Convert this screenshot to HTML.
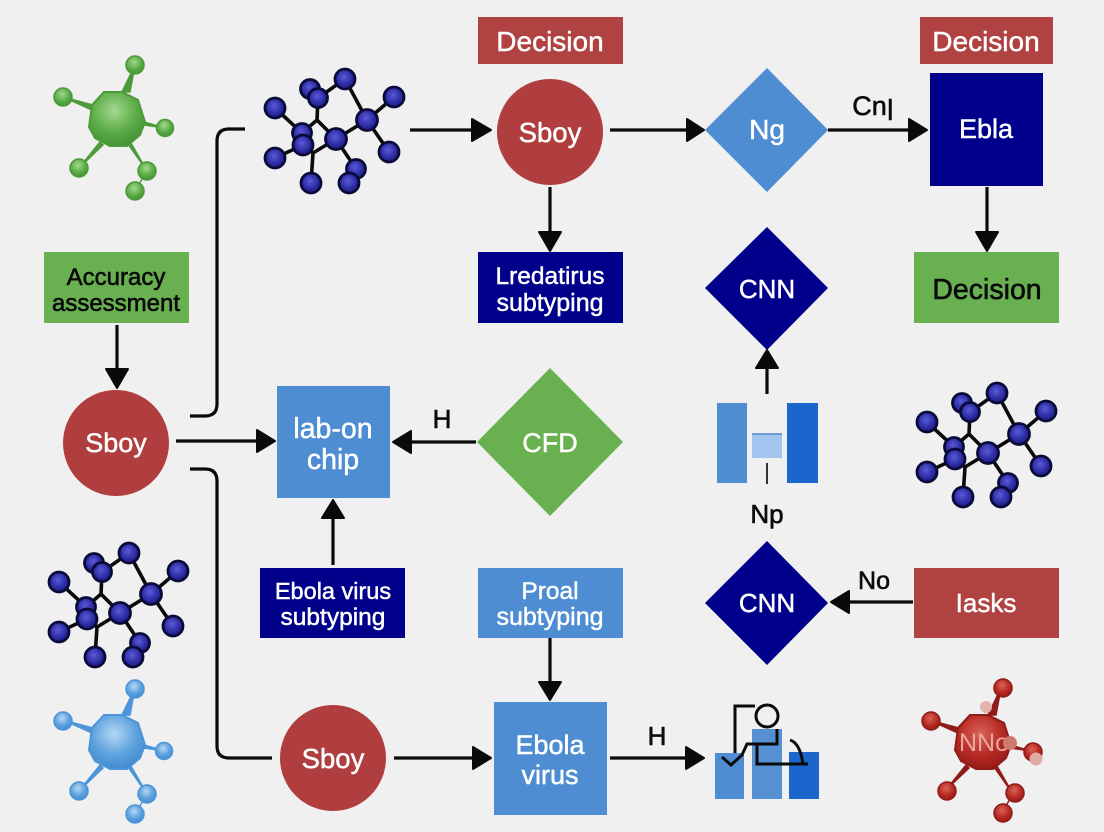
<!DOCTYPE html>
<html><head><meta charset="utf-8"><style>
html,body{margin:0;padding:0;background:#f0f0f0;width:1104px;height:832px;overflow:hidden}
svg{display:block}
text{font-family:"Liberation Sans",sans-serif;text-anchor:middle}
.w{fill:#fff;stroke:#fff;stroke-width:.45}
.k{fill:#0a0a0a;stroke:#0a0a0a;stroke-width:.6}
.c{fill:none;stroke:#0a0a0a;stroke-width:3.2}
.h{fill:#0a0a0a;stroke:#0a0a0a;stroke-width:2;stroke-linejoin:round}
</style></head><body>
<svg width="1104" height="832" viewBox="0 0 1104 832" xmlns="http://www.w3.org/2000/svg">
<defs>
<radialGradient id="bb" cx=".45" cy=".4" r=".6"><stop offset="0" stop-color="#5a5ad8"/><stop offset=".6" stop-color="#2f2fa8"/><stop offset="1" stop-color="#1c1c80"/></radialGradient>
<radialGradient id="gb" cx=".45" cy=".35" r=".65"><stop offset="0" stop-color="#a5d890"/><stop offset=".6" stop-color="#5cad48"/><stop offset="1" stop-color="#449338"/></radialGradient>
<radialGradient id="lb" cx=".45" cy=".35" r=".65"><stop offset="0" stop-color="#b4d8f2"/><stop offset=".6" stop-color="#5ea2de"/><stop offset="1" stop-color="#458bd0"/></radialGradient>
<radialGradient id="rb" cx=".45" cy=".35" r=".65"><stop offset="0" stop-color="#d9655a"/><stop offset=".6" stop-color="#b82a24"/><stop offset="1" stop-color="#981c18"/></radialGradient>
<g id="net">
<g fill="none" stroke="#0a0a0a" stroke-width="3.6">
<path d="M275 108L302 133M318 98L317 120L336 139M317 120L302 133M318 98L345 79L367 120L394 97M367 120L389 152M336 139L367 120M336 139L313 153L311 183M275 158L303 145M336 139L356 169M303 145L313 153"/>
</g>
<g fill="url(#bb)" stroke="#0a0a38" stroke-width="2.8">
<circle cx="310" cy="89" r="9.5"/><circle cx="318" cy="98" r="9.5"/><circle cx="345" cy="79" r="10"/><circle cx="394" cy="97" r="10"/><circle cx="275" cy="108" r="10"/><circle cx="367" cy="120" r="10.5"/><circle cx="389" cy="152" r="10"/><circle cx="336" cy="139" r="10.5"/><circle cx="302" cy="133" r="9.5"/><circle cx="303" cy="145" r="10"/><circle cx="275" cy="158" r="10"/><circle cx="311" cy="183" r="10"/><circle cx="356" cy="169" r="9.5"/><circle cx="349" cy="183" r="10"/>
</g>
</g>
<g id="star-shape">
<path d="M135 65L122 92L130 92ZM63 97L93 105L92 110ZM165 128L144 122L144 125ZM79 168L100 142L103 145ZM147 171L128 144L131 143ZM147 171L135 191" stroke-width="1.5" fill="currentColor" stroke="currentColor"/>
<polygon points="104,92 122,92 138,100 145,122 140,135 127,146 110,146 95,138 89,127 92,105"/>
</g>
</defs>
<rect width="1104" height="832" fill="#f0f0f0"/>

<!-- molecules -->
<use href="#net"/>
<use href="#net" x="652" y="314"/>
<use href="#net" x="-216" y="474"/>

<g color="#4d9a3a" fill="url(#gb)" stroke="#4d9a3a" stroke-width="2">
<use href="#star-shape"/>
<g stroke-width="1.5"><circle cx="135" cy="65" r="9"/><circle cx="63" cy="97" r="9"/><circle cx="165" cy="128" r="8.5"/><circle cx="79" cy="168" r="9"/><circle cx="147" cy="171" r="9"/><circle cx="135" cy="191" r="9"/></g>
</g>
<g color="#4d94d8" fill="url(#lb)" stroke="#4d94d8" stroke-width="2" transform="translate(0,623)">
<use href="#star-shape"/>
<g stroke-width="1.5"><circle cx="135" cy="66" r="9"/><circle cx="63" cy="98" r="9"/><circle cx="164" cy="128" r="8.5"/><circle cx="79" cy="168" r="9"/><circle cx="147" cy="171" r="9"/><circle cx="135" cy="191" r="9"/></g>
</g>
<g color="#8e1c18" fill="url(#rb)" stroke="#8e1c18" stroke-width="2" transform="translate(866,623)">
<use href="#star-shape"/>
<g stroke-width="1.5"><circle cx="137" cy="65" r="9"/><circle cx="65" cy="98" r="9"/><circle cx="167" cy="129" r="9"/><circle cx="81" cy="168" r="9"/><circle cx="149" cy="170" r="9"/><circle cx="137" cy="190" r="9"/></g>
</g>
<text x="984" y="751" font-size="25" fill="#e9a79c">NNo</text>
<circle cx="986" cy="707" r="6" fill="#e3b3ad"/><circle cx="1010" cy="743" r="7" fill="#cf7a70"/><circle cx="1036" cy="759" r="6.5" fill="#deaaa4"/>

<!-- connectors -->
<path class="c" d="M245 129H229Q217 129 217 141V404Q217 416 205 416H190"/>
<path class="c" d="M190 469H205Q217 469 217 481V746Q217 758 229 758H272"/>
<path class="c" d="M410 130H475M610 130H688M828 130H910M550 187V235M987 187V235M117 325V372M176 441H258M476 442H410M333 565V517M767 394V366M913 602H848M550 638V684M394 758H475M610 758H688"/>
<polygon class="h" points="491,130 472,119 472,141"/>
<polygon class="h" points="704,130 687,119 687,141"/>
<polygon class="h" points="927,130 909,119 909,141"/>
<polygon class="h" points="550,251 539,232 561,232"/>
<polygon class="h" points="987,251 976,232 998,232"/>
<polygon class="h" points="117,388 106,369 128,369"/>
<polygon class="h" points="275,441 257,430 257,452"/>
<polygon class="h" points="393,442 411,431 411,453"/>
<polygon class="h" points="333,500 322,518 344,518"/>
<polygon class="h" points="767,350 756,368 778,368"/>
<polygon class="h" points="831,602 849,591 849,613"/>
<polygon class="h" points="550,700 539,682 561,682"/>
<polygon class="h" points="491,758 473,747 473,769"/>
<polygon class="h" points="704,758 686,747 686,769"/>

<!-- shapes -->
<rect x="478" y="17" width="145" height="47" fill="#b04242"/>
<rect x="920" y="17" width="133" height="47" fill="#b04242"/>
<circle cx="550" cy="132" r="53" fill="#b03e3e"/>
<polygon points="767,68 828,130 767,192 705,130" fill="#4f8dd3"/>
<rect x="930" y="73" width="113" height="113" fill="#00008b"/>
<rect x="478" y="252" width="145" height="71" fill="#00008b"/>
<rect x="914" y="252" width="145" height="71" fill="#69b050"/>
<polygon points="767,227 828,288 767,350 705,288" fill="#00008b"/>
<rect x="44" y="252" width="145" height="71" fill="#69b050"/>
<circle cx="116" cy="443" r="53" fill="#b03e3e"/>
<rect x="277" y="386" width="113" height="112" fill="#4f8dd3"/>
<polygon points="550,368 623,442 550,516 477,442" fill="#69b050"/>
<rect x="260" y="568" width="145" height="70" fill="#00008b"/>
<rect x="478" y="568" width="145" height="70" fill="#4f8dd3"/>
<polygon points="767,541 828,603 767,665 705,603" fill="#00008b"/>
<rect x="914" y="568" width="145" height="70" fill="#b04242"/>
<circle cx="333" cy="758" r="53" fill="#b03e3e"/>
<rect x="494" y="702" width="113" height="113" fill="#4f8dd3"/>

<!-- bar icons -->
<rect x="717" y="403" width="30" height="80" fill="#4f8dd3"/>
<rect x="752" y="433" width="30" height="25" fill="#a2c6f0"/>
<rect x="752" y="433" width="30" height="2" fill="#6d9bd4"/>
<rect x="787" y="403" width="31" height="80" fill="#1a66cc"/>
<rect x="766" y="463" width="2" height="21" fill="#333"/>
<rect x="715" y="753" width="29" height="46" fill="#4f8dd3"/>
<rect x="752" y="729" width="30" height="70" fill="#5590d2"/>
<rect x="789" y="752" width="30" height="47" fill="#1a66cc"/>
<g fill="none" stroke="#0a0a0a" stroke-width="3">
<path d="M755 706H735V753"/>
<circle cx="767" cy="716" r="11" fill="#f0f0f0"/>
<path d="M722 757L731 765L742 755L747 744H777V729"/>
<path d="M757 743V764H808"/>
<path d="M790 740Q800 743 803 764"/>
</g>

<!-- labels -->
<text class="w" x="550" y="51" font-size="28">Decision</text>
<text class="w" x="986" y="51" font-size="28">Decision</text>
<text class="w" x="550" y="142" font-size="27.5">Sboy</text>
<text class="w" x="767" y="139" font-size="28">Ng</text>
<text class="w" x="986" y="138" font-size="27">Ebla</text>
<text class="k" x="873" y="115" font-size="27">Cnן</text>
<text class="w" x="550" y="284" font-size="24.5">Lredatirus</text>
<text class="w" x="550" y="311" font-size="25">subtyping</text>
<text class="w" x="767" y="298" font-size="26">CNN</text>
<text class="k" x="987" y="299" font-size="28.5">Decision</text>
<text class="k" x="116" y="285" font-size="24">Accuracy</text>
<text class="k" x="116" y="311" font-size="24">assessment</text>
<text class="w" x="116" y="452" font-size="27">Sboy</text>
<text class="w" x="333" y="438" font-size="28.5">lab-on</text>
<text class="w" x="333" y="469" font-size="28.5">chip</text>
<text class="k" x="442" y="428" font-size="26">H</text>
<text class="w" x="550" y="452" font-size="27">CFD</text>
<text class="k" x="767" y="523" font-size="26">Np</text>
<text class="k" x="874" y="589" font-size="25">No</text>
<text class="w" x="986" y="612" font-size="26">Iasks</text>
<text class="w" x="767" y="612" font-size="26">CNN</text>
<text class="w" x="333" y="599" font-size="23.5">Ebola virus</text>
<text class="w" x="333" y="625" font-size="24.5">subtyping</text>
<text class="w" x="550" y="599" font-size="24.5">Proal</text>
<text class="w" x="550" y="625" font-size="25">subtyping</text>
<text class="w" x="333" y="768" font-size="27.5">Sboy</text>
<text class="w" x="550" y="754" font-size="27">Ebola</text>
<text class="w" x="550" y="784" font-size="27">virus</text>
<text class="k" x="657" y="745" font-size="26">H</text>
</svg>
</body></html>
